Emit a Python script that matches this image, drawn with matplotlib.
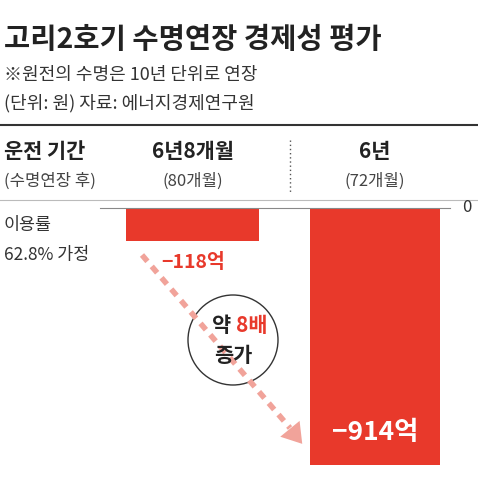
import matplotlib.pyplot as plt
from matplotlib.patches import Circle, FancyArrowPatch

plt.rcParams['font.family'] = ['Noto Sans CJK KR', 'DejaVu Sans']

periods = ['6년8개월', '6년']
months = ['(80개월)', '(72개월)']
values = [-118, -914]
labels = ['−118억', '−914억']

W = 478
red = '#e8392b'
pink = '#f1a39a'
fig = plt.figure(figsize=(4.78, 4.78), dpi=100)

# bar area: from zero line (y=208 px from top) to bottom
bax = fig.add_axes([0, 0, 1, 270 / W])
bax.set_xlim(0, W)
bax.set_ylim(-914 * 270 / 257, 0)
bax.axis('off')
bax.bar([193, 375], values, width=[133, 130], color=red)

# overlay in pixel coordinates
ax = fig.add_axes([0, 0, 1, 1])
ax.set_xlim(0, W)
ax.set_ylim(W, 0)
ax.axis('off')
ax.patch.set_alpha(0)

ax.text(4, 40, '고리2호기 수명연장 경제성 평가', fontsize=20.5, fontweight='bold', va='center', color='#222')
ax.text(4, 75, '※원전의 수명은 10년 단위로 연장', fontsize=13, va='center', color='#333')
ax.text(4, 103, '(단위: 원) 자료: 에너지경제연구원', fontsize=13, va='center', color='#333')
ax.plot([0, W], [125, 125], color='#333', lw=1.5)
ax.plot([0, W], [200, 200], color='#bbb', lw=0.8)

ax.text(4, 152, '운전 기간', fontsize=15, fontweight='bold', va='center', color='#222')
ax.text(4, 181, '(수명연장 후)', fontsize=12, va='center', color='#444')
for x, p, m in zip([193, 375], periods, months):
    ax.text(x, 152, p, fontsize=15, fontweight='bold', ha='center', va='center', color='#222')
    ax.text(x, 181, m, fontsize=12, ha='center', va='center', color='#444')
ax.plot([290, 290], [140, 192], color='#555', lw=1, ls=(0, (1, 2)))

ax.plot([100, 450], [208, 208], color='#888', lw=0.8)
ax.text(462, 208, '0', fontsize=12, va='center', color='#333')
ax.text(4, 225, '이용률', fontsize=12.5, va='center', color='#333')
ax.text(4, 255, '62.8% 가정', fontsize=12.5, va='center', color='#333')

ax.text(193, 263, labels[0], fontsize=14, fontweight='bold', ha='center', va='center', color=red)
ax.text(375, 432, labels[1], fontsize=19, fontweight='bold', ha='center', va='center', color='white')

ax.plot([142, 290], [255, 428], color=pink, lw=4, ls=(0, (1.5, 1.2)), solid_capstyle='butt',
        dash_capstyle='butt')
ax.add_patch(FancyArrowPatch((286, 424), (304, 446), arrowstyle='-|>,head_length=14,head_width=9',
                             color=pink, lw=0, mutation_scale=1))
ax.add_patch(Circle((233, 340), 45, facecolor='white', edgecolor='#333', lw=1))
ax.text(236, 325, '약 ', fontsize=15, fontweight='bold', ha='right', va='center', color='#222')
ax.text(236, 325, '8배', fontsize=15, fontweight='bold', ha='left', va='center', color=red)
ax.text(233, 356, '증가', fontsize=15, fontweight='bold', ha='center', va='center', color='#222')

fig.savefig('out.png', dpi=100)
